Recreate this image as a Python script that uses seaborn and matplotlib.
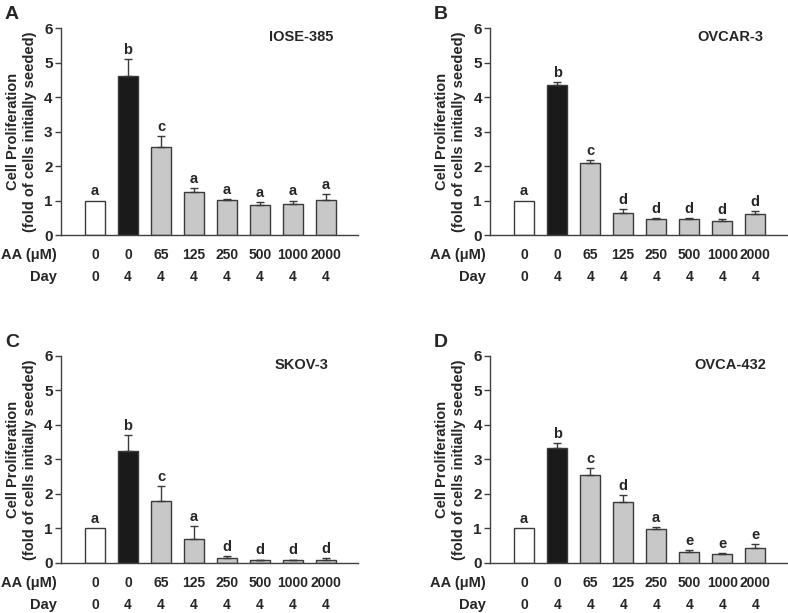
import numpy as np
import pandas as pd
import seaborn as sns
from matplotlib import pyplot as plt
import matplotlib.transforms as mtransforms

sns.set_style("white")
sns.set_style("ticks")
plt.rcParams['font.family'] = ['Liberation Sans', 'DejaVu Sans']
plt.rcParams['font.weight'] = 'bold'

# ---------------- data
aa_conc = ["0", "0", "65", "125", "250", "500", "1000", "2000"]
day = ["0", "4", "4", "4", "4", "4", "4", "4"]
panels = ["A", "B", "C", "D"]
cell_lines = ["IOSE-385", "OVCAR-3", "SKOV-3", "OVCA-432"]

mean_iose = [1.0, 4.62, 2.54, 1.24, 1.02, 0.86, 0.90, 1.02]
err_iose = [0.0, 0.48, 0.32, 0.13, 0.03, 0.10, 0.10, 0.17]
sig_iose = ["a", "b", "c", "a", "a", "a", "a", "a"]

mean_ovcar = [1.0, 4.35, 2.08, 0.65, 0.45, 0.46, 0.42, 0.60]
err_ovcar = [0.0, 0.09, 0.09, 0.10, 0.05, 0.04, 0.03, 0.09]
sig_ovcar = ["a", "b", "c", "d", "d", "d", "d", "d"]

mean_skov = [1.0, 3.26, 1.81, 0.70, 0.13, 0.08, 0.08, 0.10]
err_skov = [0.0, 0.44, 0.41, 0.37, 0.08, 0.02, 0.02, 0.04]
sig_skov = ["a", "b", "c", "a", "d", "d", "d", "d"]

mean_ovca = [1.0, 3.32, 2.54, 1.77, 0.99, 0.31, 0.26, 0.42]
err_ovca = [0.0, 0.16, 0.20, 0.19, 0.06, 0.06, 0.03, 0.13]
sig_ovca = ["a", "b", "c", "d", "a", "e", "e", "e"]

means = [mean_iose, mean_ovcar, mean_skov, mean_ovca]
errs = [err_iose, err_ovcar, err_skov, err_ovca]
sigs = [sig_iose, sig_ovcar, sig_skov, sig_ovca]

bar_colors = ["white", "#1a1a1a"] + ["#c8c8c8"] * 6
edge = "#3a3a3a"

# axes rectangles (figure fraction)
rects = [[0.0774, 0.6166, 0.377, 0.3377],
         [0.622, 0.6166, 0.377, 0.3377],
         [0.0774, 0.0816, 0.377, 0.3377],
         [0.622, 0.0816, 0.377, 0.3377]]

fh = plt.figure(figsize=(7.88, 6.13), dpi=100)
for i in range(4):
    ah = fh.add_axes(rects[i])
    df = pd.DataFrame({"grp": [str(k) for k in range(8)], "val": means[i]})
    pal = {str(k): bar_colors[k] for k in range(8)}
    sns.barplot(data=df, x="grp", y="val", hue="grp", palette=pal, legend=False,
                edgecolor=edge, linewidth=1, width=0.6, saturation=1, ax=ah)
    xpos = np.arange(8)
    m = np.array(means[i])
    e = np.array(errs[i])
    ah.errorbar(xpos[1:], m[1:], yerr=[np.zeros(7), e[1:]], fmt="none",
                ecolor=edge, elinewidth=1, capsize=3, capthick=1)
    for k in range(8):
        ah.text(k, m[k] + e[k] + 0.06, sigs[i][k], ha="center", va="bottom",
                fontsize=10.5, fontweight="bold")
    ah.set_ylim(0, 6)
    ah.set_xlim(-1.03, 7.97)
    ah.set_yticks(range(7))
    ah.set_xticks([])
    ah.set_xlabel("")
    ah.set_ylabel("Cell Proliferation\n(fold of cells initially seeded)",
                  fontsize=10.5, fontweight="bold", labelpad=5, linespacing=1.3)
    for s in ["top", "right"]:
        ah.spines[s].set_visible(False)
    for s in ["left", "bottom"]:
        ah.spines[s].set_color("#404040")
        ah.spines[s].set_linewidth(1)
    ah.tick_params(axis="y", length=4, width=1, direction="out", color="#404040",
                   labelsize=11, pad=2)
    for lab in ah.get_yticklabels():
        lab.set_fontweight("bold")
    trans = mtransforms.blended_transform_factory(ah.transData, ah.transAxes)
    for k in range(8):
        ah.text(k, -0.097, aa_conc[k], transform=trans, ha="center", va="center",
                fontsize=10, fontweight="bold")
        ah.text(k, -0.203, day[k], transform=trans, ha="center", va="center",
                fontsize=10, fontweight="bold")
    ah.text(-0.015, -0.097, "AA (\u03bcM)", transform=ah.transAxes, ha="right",
            va="center", fontsize=10.5, fontweight="bold")
    ah.text(-0.015, -0.203, "Day", transform=ah.transAxes, ha="right",
            va="center", fontsize=10.5, fontweight="bold")
    ah.text(0.81, 0.955, cell_lines[i], transform=ah.transAxes, ha="center",
            va="center", fontsize=10.5, fontweight="bold")
    ah.text(-0.165, 1.065, panels[i], transform=ah.transAxes, ha="center",
            va="center", fontsize=14, fontweight="bold")

fh.savefig("out.png", dpi=100)
